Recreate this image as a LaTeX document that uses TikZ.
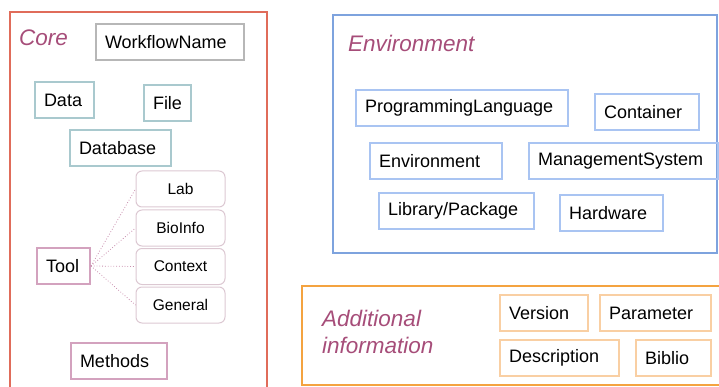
\documentclass[tikz,border=0pt]{standalone}
\usepackage{fontspec}
\setmainfont{Liberation Sans}
\usepackage{tikz}

\definecolor{coreline}{HTML}{E06C5A}
\definecolor{envline}{HTML}{7EA3DE}
\definecolor{addline}{HTML}{F4A340}
\definecolor{grouptext}{HTML}{A64D79}
\definecolor{greyline}{HTML}{B7B7B7}
\definecolor{tealline}{HTML}{A9C9CE}
\definecolor{pinkline}{HTML}{D3A2BE}
\definecolor{subline}{HTML}{DCC8D2}
\definecolor{dotline}{HTML}{C98FAE}
\definecolor{blueline}{HTML}{A9C4F2}
\definecolor{peachline}{HTML}{F9CFA3}

\newcommand\fieldfont{\fontsize{18}{21}\selectfont}
\newcommand\subfont{\fontsize{15.5}{18}\selectfont}
\newcommand\groupfont{\fontsize{22.5}{27}\selectfont\itshape}

\tikzset{
  field/.style={draw, line width=2pt, minimum height=36pt, inner xsep=9pt,
    text width=#1, align=left, anchor=north west, font=\fieldfont},
  subfield/.style={draw=subline, line width=1pt, rounded corners=6pt,
    minimum width=89pt, minimum height=36pt, font=\subfont},
  group/.style={anchor=west, text=grouptext, font=\groupfont, inner sep=0pt, align=left}
}

\begin{document}
\begin{tikzpicture}[x=1pt,y=-1pt]
\useasboundingbox (0,0) rectangle (719,387);
\clip (0,0) rectangle (719,387);

% group frames
\draw[coreline, line width=1.5pt] (10,12) rectangle (267,400);
\draw[envline, line width=1.5pt] (333,15) rectangle (717,253);
\draw[addline, line width=1.5pt] (302,286) rectangle (730,385);

\node (core) at (19,38) [group] {Core};
\node (env) at (348,43) [group] {Environment};
\node (addinfo) at (322,331.5) [group] {Additional\\information};

% core
\node (wfname) at (95,23) [field=130pt, draw=greyline] {WorkflowName};
\node (data) at (34,81) [field=41pt, draw=tealline] {Data};
\node (file) at (143,84) [field=29pt, draw=tealline] {File};
\node (database) at (69,129) [field=83pt, draw=tealline] {Database};
\node (tool) at (36,247) [field=35pt, draw=pinkline] {Tool};
\node (methods) at (70,342) [field=78pt, draw=pinkline] {Methods};

\node (lab) at (180.5,189) [subfield] {Lab};
\node (bioinfo) at (180.5,228) [subfield] {BioInfo};
\node (context) at (180.5,266.5) [subfield] {Context};
\node (general) at (180.5,305) [subfield] {General};

\draw[dotline, dotted, line width=0.8pt] (tool.east) -- (lab.west);
\draw[dotline, dotted, line width=0.8pt] (tool.east) -- (bioinfo.west);
\draw[dotline, dotted, line width=0.8pt] (tool.east) -- (context.west);
\draw[dotline, dotted, line width=0.8pt] (tool.east) -- (general.west);

% environment
\node (proglang) at (355,89) [field=194pt, draw=blueline] {ProgrammingLanguage};
\node (container) at (594,93) [field=86pt, draw=blueline] {Container};
\node (environment) at (369,142) [field=114pt, draw=blueline] {Environment};
\node (mgmtsys) at (528,142) [field=171pt, draw=blueline] {ManagementSystem};
\node (library) at (378,192) [field=137pt, draw=blueline] {Library/Package};
\node (hardware) at (559,194) [field=85pt, draw=blueline] {Hardware};

% additional information
\node (version) at (499,294) [field=70pt, draw=peachline] {Version};
\node (parameter) at (599,294) [field=93pt, draw=peachline] {Parameter};
\node (description) at (499,339) [field=101pt, draw=peachline] {Description};
\node (biblio) at (635,339) [field=57pt, draw=peachline] {Biblio};
\end{tikzpicture}
\end{document}
